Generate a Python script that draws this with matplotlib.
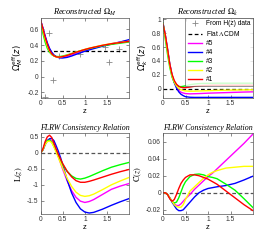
#!/usr/bin/env python3
# -*- coding: utf-8 -*-

## Reconstructed Omega_M / Omega_k and FLRW consistency relation

import numpy as np
import matplotlib
matplotlib.use('Agg')
import matplotlib.pyplot as plt
from matplotlib import rcParams

rcParams['font.family'] = 'Liberation Sans'
rcParams['mathtext.fontset'] = 'stix'

# redshift grid
z = [0, .05, .1, .15, .2, .25, .3, .35, .4, .45, .5, .6, .7, .8, .9, 1.0, 1.1, 1.2, 1.4, 1.6, 1.8, 2.0]

# Omega_M^eff(z)
om_1 = [.71, .61, .50, .41, .335, .29, .265, .252, .248, .25, .255, .27, .29, .31, .328, .345, .36, .373, .398, .418, .433, .448]
om_2 = [.70, .59, .48, .39, .325, .285, .262, .25, .248, .25, .256, .272, .292, .312, .33, .347, .362, .375, .40, .42, .435, .45]
om_3 = [.69, .55, .44, .36, .31, .28, .263, .256, .255, .257, .262, .276, .294, .312, .328, .343, .357, .37, .392, .41, .425, .44]
om_4 = [.71, .62, .52, .43, .36, .31, .275, .255, .243, .238, .237, .245, .262, .283, .303, .322, .34, .356, .386, .413, .44, .47]
om_5 = [.71, .615, .51, .42, .35, .30, .27, .253, .245, .243, .245, .258, .276, .297, .317, .335, .35, .364, .392, .418, .44, .46]

# Omega_k^eff(z)
ok_1 = [.93, .78, .58, .36, .21, .12, .065, .035, .02, .015, .015, .025, .035, .042, .046, .048, .05, .05, .05, .05, .05, .05]
ok_2 = [.94, .76, .55, .34, .19, .10, .04, .005, -.015, -.025, -.032, -.036, -.035, -.033, -.03, -.028, -.026, -.024, -.021, -.019, -.017, -.015]
ok_3 = [.95, .72, .50, .31, .17, .09, .05, .032, .03, .035, .042, .058, .068, .074, .077, .078, .079, .08, .08, .08, .08, .08]
ok_4 = [.95, .78, .57, .36, .20, .09, .01, -.045, -.08, -.10, -.115, -.123, -.125, -.125, -.125, -.125, -.125, -.125, -.125, -.125, -.125, -.125]
ok_5 = [.94, .77, .56, .35, .19, .09, .02, -.025, -.05, -.062, -.07, -.074, -.072, -.07, -.067, -.064, -.062, -.06, -.056, -.052, -.048, -.045]

# L(z)
L_1 = [0, .12, .35, .50, .55, .48, .30, .12, -.05, -.20, -.34, -.58, -.75, -.87, -.92, -.92, -.89, -.85, -.76, -.67, -.59, -.52]
L_2 = [0, .09, .26, .35, .37, .32, .18, .02, -.15, -.32, -.48, -.80, -1.05, -1.23, -1.33, -1.36, -1.34, -1.29, -1.15, -1.00, -.88, -.77]
L_3 = [0, .10, .28, .38, .40, .34, .20, .05, -.10, -.24, -.37, -.58, -.72, -.80, -.82, -.79, -.74, -.68, -.56, -.45, -.37, -.30]
L_4 = [0, .08, .25, .38, .44, .45, .38, .22, .05, -.15, -.38, -.85, -1.25, -1.55, -1.75, -1.85, -1.88, -1.86, -1.76, -1.64, -1.53, -1.43]
L_5 = [0, .10, .29, .39, .42, .37, .24, .06, -.12, -.32, -.52, -.88, -1.18, -1.39, -1.51, -1.55, -1.52, -1.46, -1.30, -1.14, -1.04, -.96]

# C(z)
C_1 = [0, 0, -.002, -.007, -.010, -.008, -.002, .005, .011, .015, .018, .021, .021, .020, .018, .016, .013, .010, .002, -.006, -.014, -.021]
C_2 = [0, 0, -.002, -.006, -.010, -.014, -.016, -.017, -.017, -.014, -.008, .002, .007, .012, .017, .021, .024, .026, .029, .030, .031, .031]
C_3 = [0, 0, -.002, -.006, -.010, -.012, -.011, -.006, .001, .008, .013, .019, .0215, .022, .021, .019, .018, .0165, .010, .003, -.007, -.0175]
C_4 = [0, 0, -.002, -.006, -.011, -.015, -.019, -.021, -.021, -.020, -.017, -.011, -.005, .000, .003, .005, .006, .007, .0085, .011, .015, .0195]
C_5 = [0, 0, -.002, -.006, -.010, -.013, -.015, -.015, -.013, -.010, -.007, -.002, .004, .009, .014, .019, .023, .028, .038, .048, .058, .069]

# H(z) data points (Omega_M)
hz_z = [0.09, 0.19, 0.27, 0.41, 0.90, 1.45, 1.55, 1.77]
hz_om = [-0.26, 0.55, -0.047, 0.26, 0.29, 0.38, 0.19, 0.345]

om_lcdm = 0.32
labels = ['#5', '#4', '#3', '#2', '#1']
colors = ['#ff00ff', '#0000ff', '#00ff00', '#ffff00', '#ff0000']

W, H = 279, 241
fig = plt.figure(figsize=(W/100., H/100.), dpi=100)

def pix_axes(x0, x1, y0, y1):
    return fig.add_axes([x0/W, 1 - y1/H, (x1 - x0)/W, (y1 - y0)/H])

def style(ax, title, ylabel, yticks, ylim, ylab_math='stix', tsize=6):
    ax.set_xlim(0, 2)
    ax.set_ylim(*ylim)
    ax.set_xticks([0, 0.5, 1, 1.5])
    ax.set_xticklabels(['0', '0.5', '1', '1.5'])
    ax.set_yticks(yticks)
    ax.set_yticklabels(['%g' % t for t in yticks])
    ax.tick_params(direction='in', length=2, width=0.4, labelsize=4.8,
                   top=True, right=True, pad=1.5, colors='#333333')
    for sp in ax.spines.values():
        sp.set_linewidth(0.5)
        sp.set_color('#555555')
    ax.set_title(title, fontsize=tsize, family='Liberation Serif', style='italic', pad=2.5)
    ax.set_xlabel('z', fontsize=5.5, labelpad=0.5)
    ax.set_ylabel(ylabel, fontsize=6, labelpad=1.5, math_fontfamily=ylab_math)

lw = 1.0

# --- top left
ax1 = pix_axes(40.7, 129, 18, 98.3)
ax1.plot(hz_z, hz_om, '+', color='#888888', ms=4, mew=0.6)
ax1.axhline(om_lcdm, color='k', ls='--', lw=0.9, dashes=(3, 2))
for y, c in zip([om_5, om_4, om_3, om_2, om_1], colors):
    ax1.plot(z, y, color=c, lw=lw)
style(ax1, r'Reconstructed $\Omega_M$', r'$\Omega_M^{\rm eff}(z)$',
      [-0.2, 0, 0.2, 0.4, 0.6], (-0.275, 0.745), 'dejavusans')

# --- top right
ax2 = pix_axes(163, 253, 18, 98.3)
ax2.plot([], [], '+', color='#888888', ms=4, mew=0.6, label='From H(z) data')
ax2.axhline(0, color='k', ls='--', lw=0.9, dashes=(3, 2), label=r'Flat $\Lambda$CDM')
for y, c, lab in zip([ok_5, ok_4, ok_3, ok_2, ok_1], colors, labels):
    ax2.plot(z, y, color=c, lw=lw, label=lab)
style(ax2, r'Reconstructed $\Omega_k$', r'$\Omega_k^{\rm eff}(z)$',
      [0, 0.2, 0.4, 0.6, 0.8, 1], (-0.138, 1.02), 'dejavusans')
leg = ax2.legend(loc='upper right', fontsize=4.8, frameon=True, fancybox=False,
                 borderpad=0.35, labelspacing=0.3, handlelength=2.2,
                 handletextpad=0.6, borderaxespad=0.0)
leg.get_frame().set_edgecolor('#444444')
leg.get_frame().set_linewidth(0.5)

# --- bottom left
ax3 = pix_axes(40.7, 129, 133.3, 214.3)
ax3.axhline(0, color='#555555', ls='--', lw=0.9, dashes=(3, 2))
for y, c in zip([L_5, L_4, L_3, L_2, L_1], colors):
    ax3.plot(z, y, color=c, lw=lw)
style(ax3, 'FLRW Consistency Relation', r'$\mathrm{L}(z)$',
      [-1.5, -1, -0.5, 0, 0.5], (-1.92, 0.61), tsize=5.7)

# --- bottom right
ax4 = pix_axes(163, 253, 133.3, 214.3)
ax4.axhline(0, color='#555555', ls='--', lw=0.9, dashes=(3, 2))
for y, c in zip([C_5, C_4, C_3, C_2, C_1], colors):
    ax4.plot(z, y, color=c, lw=lw)
style(ax4, 'FLRW Consistency Relation', r'$\mathrm{C}(z)$',
      [-0.02, 0, 0.02, 0.04, 0.06], (-0.0253, 0.0698), tsize=5.7)

fig.savefig('out.png', dpi=100)
